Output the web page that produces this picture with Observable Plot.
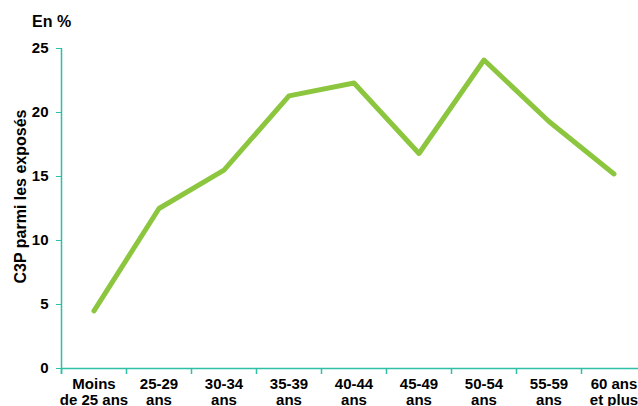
<!DOCTYPE html>
<html>
<head>
<meta charset="utf-8">
<script src="https://cdn.jsdelivr.net/npm/d3@7"></script>
<script src="https://cdn.jsdelivr.net/npm/@observablehq/plot@0.6"></script>
<style>
  html, body { margin: 0; padding: 0; background: #fff; overflow: hidden; }
  body { font-family: "Liberation Sans", Arial, sans-serif; position: relative; width: 638px; height: 406px; }
  #unit { position: absolute; left: 32px; top: 13px; font-size: 16px; font-weight: bold; color: #000; }
  #chart { position: absolute; left: 0; top: 0; width: 646px; }
  #chart svg { overflow: hidden; max-width: none !important; display: block; }
</style>
</head>
<body>
<div id="chart"></div>
<div id="unit">En %</div>
<script>
const categories = ["Moins\nde 25 ans", "25-29\nans", "30-34\nans", "35-39\nans", "40-44\nans", "45-49\nans", "50-54\nans", "55-59\nans", "60 ans\net plus"];
const values = [4.5, 12.5, 15.5, 21.3, 22.3, 16.8, 24.1, 19.3, 15.2];
const yTicks = [0, 5, 10, 15, 20, 25];

const data = categories.map((c, i) => ({cat: c, value: values[i]}));
const teal = "#2fbea6";
const green = "#8cc63f";
const marginLeft = 61, bw = 65;
const width = marginLeft + bw * categories.length;

const chart = Plot.plot({
  width: width,
  height: 406,
  marginLeft: marginLeft,
  marginRight: 0,
  marginTop: 48,
  marginBottom: 38,
  style: {fontFamily: "'Liberation Sans', Arial, sans-serif", fontWeight: "bold", fontSize: "15px", color: "#000", background: "#fff", maxWidth: "none"},
  x: {type: "band", domain: categories, padding: 0},
  y: {domain: [0, 25]},
  marks: [
    Plot.axisY({ticks: yTicks, tickSize: 5, tickPadding: 8, stroke: teal, fill: "#000", label: null, fontSize: 15}),
    Plot.axisX({tickSize: 0, tickPadding: 8, label: null, fill: "#000", lineHeight: 1.13, fontSize: 15}),
    Plot.ruleY([0], {stroke: teal, strokeWidth: 1.5}),
    Plot.ruleX(categories, {x: d => d, dx: -bw / 2, y1: 0, y2: -0.47, stroke: teal, strokeWidth: 1.5}),
    Plot.ruleX([categories[0]], {x: d => d, dx: -bw / 2, y1: -0.47, y2: 25, stroke: teal, strokeWidth: 1.5}),
    Plot.line(data, {x: "cat", y: "value", stroke: green, strokeWidth: 5}),
    Plot.text(["C3P parmi les exposés"], {frameAnchor: "left", textAnchor: "middle", lineAnchor: "middle", text: d => d, rotate: -90, dx: -41, dy: -12, fontSize: 16, fontWeight: "bold", fill: "#000"})
  ]
});
document.getElementById("chart").appendChild(chart);
</script>
</body>
</html>
